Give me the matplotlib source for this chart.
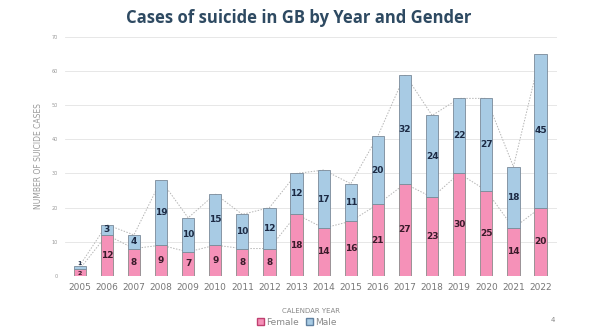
import matplotlib.pyplot as plt
import numpy as np
from matplotlib.patches import Patch

years = [str(y) for y in range(2005, 2023)]
female = [2, 12, 8, 9, 7, 9, 8, 8, 18, 14, 16, 21, 27, 23, 30, 25, 14, 20]
male = [1, 3, 4, 19, 10, 15, 10, 12, 12, 17, 11, 20, 32, 24, 22, 27, 18, 45]
yticks = [0, 10, 20, 30, 40, 50, 60, 70]

pink = '#F591B8'
blue = '#A8CBE4'

fig = plt.figure(figsize=(6, 3.36), dpi=100)
ax = fig.add_axes([0.108, 0.179, 0.82, 0.711])

x = np.arange(len(years))
f = np.array(female)
m = np.array(male)
total = f + m

ax.bar(x, f, width=0.45, color=pink, edgecolor='#8a8a8a', linewidth=0.6, zorder=3)
ax.bar(x, m, width=0.45, bottom=f, color=blue, edgecolor='#7a8a99', linewidth=0.6, zorder=3)

# dotted trend lines along bar tops
ax.plot(x, f, linestyle=(0, (1.5, 1.5)), color='#b5b5b5', linewidth=0.7, zorder=2)
ax.plot(x, total, linestyle=(0, (1.5, 1.5)), color='#b5b5b5', linewidth=0.7, zorder=2)

for i in range(len(years)):
    fs = 6.5
    if f[i] + m[i] < 5:
        # tiny bar: squeeze the two labels
        ax.text(x[i], f[i] * 0.4, str(f[i]), ha='center', va='center', fontsize=4.5,
                fontweight='bold', color='#3a1a2a', zorder=4)
        ax.text(x[i], f[i] + m[i] * 0.9, str(m[i]), ha='center', va='bottom', fontsize=4.5,
                fontweight='bold', color='#1c2a44', zorder=4)
        continue
    ax.text(x[i], f[i] / 2, str(f[i]), ha='center', va='center', fontsize=fs,
            fontweight='bold', color='#3a1a2a', zorder=4)
    ax.text(x[i], f[i] + m[i] / 2, str(m[i]), ha='center', va='center', fontsize=fs,
            fontweight='bold', color='#1c2a44', zorder=4)

ax.set_xlim(-0.55, 17.6)
ax.set_ylim(0, 70)
ax.set_yticks(yticks)
ax.set_yticklabels([str(v) for v in yticks], fontsize=3.5, color='#999999')
ax.set_xticks(x)
ax.set_xticklabels(years, fontsize=6.5, color='#777777')
ax.tick_params(length=0, pad=5)
ax.yaxis.grid(True, color='#e3e3e3', linewidth=0.6, zorder=0)
for s in ax.spines.values():
    s.set_visible(False)

ax.set_ylabel('NUMBER OF SUICIDE CASES', fontsize=5.5, color='#999999', labelpad=6)
ax.set_xlabel('CALENDAR YEAR', fontsize=5, color='#888888', labelpad=12)

fig.text(0.497, 0.945, 'Cases of suicide in GB by Year and Gender', ha='center', va='center',
         fontsize=12, fontweight='bold', color='#2E4A62', family='Open Sans')

# legend
handles = [Patch(facecolor=pink, edgecolor='#c04070', label='Female'),
           Patch(facecolor=blue, edgecolor='#6080a0', label='Male')]
fig.legend(handles=handles, loc='center', bbox_to_anchor=(0.495, 0.04), ncol=2, frameon=False,
           fontsize=6.5, handlelength=0.8, handleheight=0.8, handletextpad=0.2, columnspacing=0.8,
           labelcolor='#888888')

fig.text(0.922, 0.047, '4', fontsize=5, color='#888888', ha='center', va='center')

fig.savefig('out.png', dpi=100)
